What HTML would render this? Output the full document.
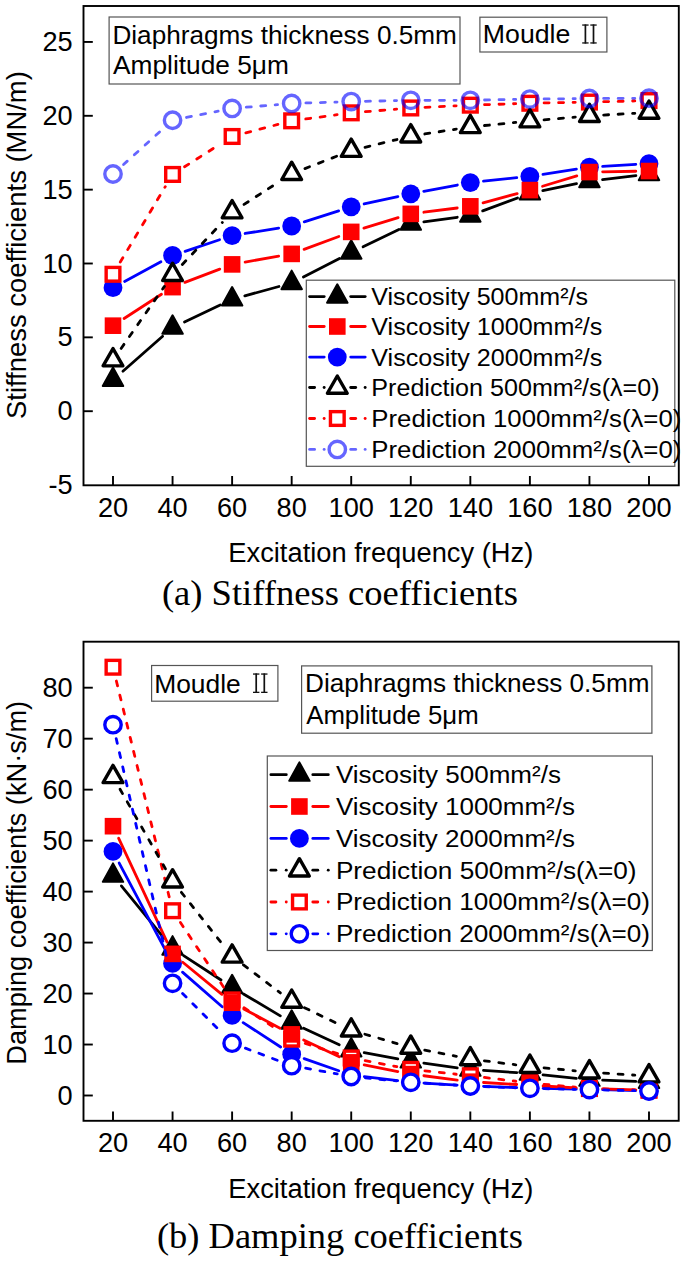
<!DOCTYPE html>
<html><head><meta charset="utf-8"><title>Stiffness and damping coefficients</title>
<style>html,body{margin:0;padding:0;background:#fff;}body{width:685px;height:1261px;overflow:hidden;font-family:"Liberation Sans",sans-serif;}svg{display:block;}</style>
</head><body><svg width="685" height="1261" viewBox="0 0 685 1261"><line x1="122.92" y1="371.18" x2="162.64" y2="336.31" stroke="#000" stroke-width="2.8" stroke-linecap="round"/><line x1="184.48" y1="321.95" x2="220.18" y2="305.04" stroke="#000" stroke-width="2.8" stroke-linecap="round"/><line x1="244.84" y1="295.89" x2="278.94" y2="286.50" stroke="#000" stroke-width="2.8" stroke-linecap="round"/><line x1="303.42" y1="276.99" x2="339.47" y2="258.58" stroke="#000" stroke-width="2.8" stroke-linecap="round"/><line x1="363.09" y1="246.80" x2="398.91" y2="229.39" stroke="#000" stroke-width="2.8" stroke-linecap="round"/><line x1="423.86" y1="221.84" x2="457.25" y2="217.28" stroke="#000" stroke-width="2.8" stroke-linecap="round"/><line x1="482.71" y1="210.90" x2="517.52" y2="197.94" stroke="#000" stroke-width="2.8" stroke-linecap="round"/><line x1="542.82" y1="190.68" x2="576.52" y2="183.74" stroke="#000" stroke-width="2.8" stroke-linecap="round"/><line x1="602.55" y1="179.52" x2="635.89" y2="175.55" stroke="#000" stroke-width="2.8" stroke-linecap="round"/><polygon points="113.00,367.55 123.25,386.05 102.75,386.05" fill="#000" stroke="#000" stroke-width="2.0" stroke-linejoin="round"/><polygon points="172.56,315.27 182.81,333.77 162.31,333.77" fill="#000" stroke="#000" stroke-width="2.0" stroke-linejoin="round"/><polygon points="232.11,287.06 242.36,305.56 221.86,305.56" fill="#000" stroke="#000" stroke-width="2.0" stroke-linejoin="round"/><polygon points="291.67,270.66 301.92,289.16 281.42,289.16" fill="#000" stroke="#000" stroke-width="2.0" stroke-linejoin="round"/><polygon points="351.22,240.24 361.47,258.74 340.97,258.74" fill="#000" stroke="#000" stroke-width="2.0" stroke-linejoin="round"/><polygon points="410.78,211.29 421.03,229.79 400.53,229.79" fill="#000" stroke="#000" stroke-width="2.0" stroke-linejoin="round"/><polygon points="470.33,203.16 480.58,221.66 460.08,221.66" fill="#000" stroke="#000" stroke-width="2.0" stroke-linejoin="round"/><polygon points="529.89,181.01 540.14,199.51 519.64,199.51" fill="#000" stroke="#000" stroke-width="2.0" stroke-linejoin="round"/><polygon points="589.44,168.75 599.69,187.25 579.19,187.25" fill="#000" stroke="#000" stroke-width="2.0" stroke-linejoin="round"/><polygon points="649.00,161.66 659.25,180.16 638.75,180.16" fill="#000" stroke="#000" stroke-width="2.0" stroke-linejoin="round"/><line x1="124.61" y1="281.45" x2="160.94" y2="261.80" stroke="#00f" stroke-width="2.8" stroke-linecap="round"/><line x1="185.07" y1="251.33" x2="219.59" y2="239.78" stroke="#00f" stroke-width="2.8" stroke-linecap="round"/><line x1="245.14" y1="233.48" x2="278.63" y2="228.08" stroke="#00f" stroke-width="2.8" stroke-linecap="round"/><line x1="304.23" y1="221.93" x2="338.66" y2="210.83" stroke="#00f" stroke-width="2.8" stroke-linecap="round"/><line x1="364.12" y1="203.97" x2="397.88" y2="196.60" stroke="#00f" stroke-width="2.8" stroke-linecap="round"/><line x1="423.75" y1="191.34" x2="457.36" y2="185.01" stroke="#00f" stroke-width="2.8" stroke-linecap="round"/><line x1="483.46" y1="181.19" x2="516.76" y2="177.72" stroke="#00f" stroke-width="2.8" stroke-linecap="round"/><line x1="542.94" y1="174.35" x2="576.40" y2="169.21" stroke="#00f" stroke-width="2.8" stroke-linecap="round"/><line x1="602.62" y1="166.42" x2="635.82" y2="164.44" stroke="#00f" stroke-width="2.8" stroke-linecap="round"/><circle cx="113.00" cy="287.72" r="9.4" fill="#00f"/><circle cx="172.56" cy="255.52" r="9.4" fill="#00f"/><circle cx="232.11" cy="235.58" r="9.4" fill="#00f"/><circle cx="291.67" cy="225.98" r="9.4" fill="#00f"/><circle cx="351.22" cy="206.78" r="9.4" fill="#00f"/><circle cx="410.78" cy="193.79" r="9.4" fill="#00f"/><circle cx="470.33" cy="182.56" r="9.4" fill="#00f"/><circle cx="529.89" cy="176.36" r="9.4" fill="#00f"/><circle cx="589.44" cy="167.20" r="9.4" fill="#00f"/><circle cx="649.00" cy="163.65" r="9.4" fill="#00f"/><line x1="120.27" y1="262.09" x2="165.28" y2="186.63" stroke="#f00" stroke-width="2.8" stroke-dasharray="5 9.5" stroke-linecap="round"/><line x1="184.53" y1="166.80" x2="220.14" y2="144.11" stroke="#f00" stroke-width="2.8" stroke-dasharray="5 9.5" stroke-linecap="round"/><line x1="245.84" y1="132.87" x2="277.93" y2="124.43" stroke="#f00" stroke-width="2.8" stroke-dasharray="5 9.5" stroke-linecap="round"/><line x1="305.74" y1="118.94" x2="337.15" y2="114.73" stroke="#f00" stroke-width="2.8" stroke-dasharray="5 9.5" stroke-linecap="round"/><line x1="365.37" y1="111.69" x2="396.63" y2="109.13" stroke="#f00" stroke-width="2.8" stroke-dasharray="5 9.5" stroke-linecap="round"/><line x1="424.96" y1="107.30" x2="456.15" y2="105.83" stroke="#f00" stroke-width="2.8" stroke-dasharray="5 9.5" stroke-linecap="round"/><line x1="484.53" y1="104.71" x2="515.70" y2="103.70" stroke="#f00" stroke-width="2.8" stroke-dasharray="5 9.5" stroke-linecap="round"/><line x1="544.09" y1="102.96" x2="575.25" y2="102.35" stroke="#f00" stroke-width="2.8" stroke-dasharray="5 9.5" stroke-linecap="round"/><line x1="603.64" y1="101.71" x2="634.80" y2="100.94" stroke="#f00" stroke-width="2.8" stroke-dasharray="5 9.5" stroke-linecap="round"/><rect x="106.15" y="267.43" width="13.7" height="13.7" fill="#fff" stroke="#f00" stroke-width="3.4"/><rect x="165.71" y="167.59" width="13.7" height="13.7" fill="#fff" stroke="#f00" stroke-width="3.4"/><rect x="225.26" y="129.63" width="13.7" height="13.7" fill="#fff" stroke="#f00" stroke-width="3.4"/><rect x="284.82" y="113.97" width="13.7" height="13.7" fill="#fff" stroke="#f00" stroke-width="3.4"/><rect x="344.37" y="106.00" width="13.7" height="13.7" fill="#fff" stroke="#f00" stroke-width="3.4"/><rect x="403.93" y="101.12" width="13.7" height="13.7" fill="#fff" stroke="#f00" stroke-width="3.4"/><rect x="463.48" y="98.32" width="13.7" height="13.7" fill="#fff" stroke="#f00" stroke-width="3.4"/><rect x="523.04" y="96.40" width="13.7" height="13.7" fill="#fff" stroke="#f00" stroke-width="3.4"/><rect x="582.59" y="95.21" width="13.7" height="13.7" fill="#fff" stroke="#f00" stroke-width="3.4"/><rect x="642.15" y="93.74" width="13.7" height="13.7" fill="#fff" stroke="#f00" stroke-width="3.4"/><line x1="124.08" y1="318.51" x2="161.47" y2="294.30" stroke="#f00" stroke-width="2.8" stroke-linecap="round"/><line x1="184.89" y1="282.42" x2="219.78" y2="269.10" stroke="#f00" stroke-width="2.8" stroke-linecap="round"/><line x1="245.11" y1="262.10" x2="278.67" y2="256.19" stroke="#f00" stroke-width="2.8" stroke-linecap="round"/><line x1="304.05" y1="249.32" x2="338.84" y2="236.47" stroke="#f00" stroke-width="2.8" stroke-linecap="round"/><line x1="363.86" y1="228.07" x2="398.14" y2="217.70" stroke="#f00" stroke-width="2.8" stroke-linecap="round"/><line x1="423.87" y1="212.22" x2="457.24" y2="208.00" stroke="#f00" stroke-width="2.8" stroke-linecap="round"/><line x1="483.07" y1="202.87" x2="517.15" y2="193.57" stroke="#f00" stroke-width="2.8" stroke-linecap="round"/><line x1="542.52" y1="186.27" x2="576.81" y2="175.90" stroke="#f00" stroke-width="2.8" stroke-linecap="round"/><line x1="602.64" y1="171.84" x2="635.80" y2="171.27" stroke="#f00" stroke-width="2.8" stroke-linecap="round"/><rect x="104.70" y="317.38" width="16.6" height="16.6" fill="#f00"/><rect x="164.26" y="278.83" width="16.6" height="16.6" fill="#f00"/><rect x="223.81" y="256.09" width="16.6" height="16.6" fill="#f00"/><rect x="283.37" y="245.60" width="16.6" height="16.6" fill="#f00"/><rect x="342.92" y="223.59" width="16.6" height="16.6" fill="#f00"/><rect x="402.48" y="205.57" width="16.6" height="16.6" fill="#f00"/><rect x="462.03" y="198.04" width="16.6" height="16.6" fill="#f00"/><rect x="521.59" y="181.79" width="16.6" height="16.6" fill="#f00"/><rect x="581.14" y="163.77" width="16.6" height="16.6" fill="#f00"/><rect x="640.70" y="162.74" width="16.6" height="16.6" fill="#f00"/><line x1="121.12" y1="348.45" x2="164.43" y2="286.37" stroke="#000" stroke-width="2.8" stroke-dasharray="5 9.5" stroke-linecap="round"/><line x1="182.34" y1="264.44" x2="222.33" y2="222.39" stroke="#000" stroke-width="2.8" stroke-dasharray="5 9.5" stroke-linecap="round"/><line x1="244.05" y1="204.41" x2="279.73" y2="181.39" stroke="#000" stroke-width="2.8" stroke-dasharray="5 9.5" stroke-linecap="round"/><line x1="304.91" y1="168.57" x2="337.98" y2="155.78" stroke="#000" stroke-width="2.8" stroke-dasharray="5 9.5" stroke-linecap="round"/><line x1="365.02" y1="147.30" x2="396.98" y2="139.54" stroke="#000" stroke-width="2.8" stroke-dasharray="5 9.5" stroke-linecap="round"/><line x1="424.81" y1="133.99" x2="456.30" y2="129.07" stroke="#000" stroke-width="2.8" stroke-dasharray="5 9.5" stroke-linecap="round"/><line x1="484.47" y1="125.51" x2="515.75" y2="122.48" stroke="#000" stroke-width="2.8" stroke-dasharray="5 9.5" stroke-linecap="round"/><line x1="544.03" y1="119.85" x2="575.30" y2="117.06" stroke="#000" stroke-width="2.8" stroke-dasharray="5 9.5" stroke-linecap="round"/><line x1="603.62" y1="115.03" x2="634.82" y2="113.32" stroke="#000" stroke-width="2.8" stroke-dasharray="5 9.5" stroke-linecap="round"/><polygon points="113.00,348.56 122.90,365.86 103.10,365.86" fill="#fff" stroke="#000" stroke-width="3.4" stroke-linejoin="round"/><polygon points="172.56,263.19 182.46,280.49 162.66,280.49" fill="#fff" stroke="#000" stroke-width="3.4" stroke-linejoin="round"/><polygon points="232.11,200.57 242.01,217.87 222.21,217.87" fill="#fff" stroke="#000" stroke-width="3.4" stroke-linejoin="round"/><polygon points="291.67,162.17 301.57,179.47 281.77,179.47" fill="#fff" stroke="#000" stroke-width="3.4" stroke-linejoin="round"/><polygon points="351.22,139.12 361.12,156.42 341.32,156.42" fill="#fff" stroke="#000" stroke-width="3.4" stroke-linejoin="round"/><polygon points="410.78,124.65 420.68,141.95 400.88,141.95" fill="#fff" stroke="#000" stroke-width="3.4" stroke-linejoin="round"/><polygon points="470.33,115.34 480.23,132.64 460.43,132.64" fill="#fff" stroke="#000" stroke-width="3.4" stroke-linejoin="round"/><polygon points="529.89,109.58 539.79,126.88 519.99,126.88" fill="#fff" stroke="#000" stroke-width="3.4" stroke-linejoin="round"/><polygon points="589.44,104.27 599.34,121.57 579.54,121.57" fill="#fff" stroke="#000" stroke-width="3.4" stroke-linejoin="round"/><polygon points="649.00,101.02 658.90,118.32 639.10,118.32" fill="#fff" stroke="#000" stroke-width="3.4" stroke-linejoin="round"/><g opacity="0.6"><line x1="123.54" y1="164.48" x2="162.02" y2="129.75" stroke="#00f" stroke-width="2.8" stroke-dasharray="5 9.5" stroke-linecap="round"/><line x1="186.48" y1="117.47" x2="218.18" y2="111.18" stroke="#00f" stroke-width="2.8" stroke-dasharray="5 9.5" stroke-linecap="round"/><line x1="246.26" y1="107.22" x2="277.52" y2="104.59" stroke="#00f" stroke-width="2.8" stroke-dasharray="5 9.5" stroke-linecap="round"/><line x1="305.86" y1="102.97" x2="337.03" y2="102.04" stroke="#00f" stroke-width="2.8" stroke-dasharray="5 9.5" stroke-linecap="round"/><line x1="365.42" y1="101.30" x2="396.58" y2="100.61" stroke="#00f" stroke-width="2.8" stroke-dasharray="5 9.5" stroke-linecap="round"/><line x1="424.98" y1="100.29" x2="456.13" y2="100.29" stroke="#00f" stroke-width="2.8" stroke-dasharray="5 9.5" stroke-linecap="round"/><line x1="484.53" y1="100.01" x2="515.69" y2="99.39" stroke="#00f" stroke-width="2.8" stroke-dasharray="5 9.5" stroke-linecap="round"/><line x1="544.09" y1="98.97" x2="575.25" y2="98.66" stroke="#00f" stroke-width="2.8" stroke-dasharray="5 9.5" stroke-linecap="round"/><line x1="603.64" y1="98.45" x2="634.80" y2="98.29" stroke="#00f" stroke-width="2.8" stroke-dasharray="5 9.5" stroke-linecap="round"/><circle cx="113.00" cy="173.99" r="8.2" fill="none" stroke="#00f" stroke-width="3.4"/><circle cx="172.56" cy="120.23" r="8.2" fill="none" stroke="#00f" stroke-width="3.4"/><circle cx="232.11" cy="108.42" r="8.2" fill="none" stroke="#00f" stroke-width="3.4"/><circle cx="291.67" cy="103.39" r="8.2" fill="none" stroke="#00f" stroke-width="3.4"/><circle cx="351.22" cy="101.62" r="8.2" fill="none" stroke="#00f" stroke-width="3.4"/><circle cx="410.78" cy="100.29" r="8.2" fill="none" stroke="#00f" stroke-width="3.4"/><circle cx="470.33" cy="100.29" r="8.2" fill="none" stroke="#00f" stroke-width="3.4"/><circle cx="529.89" cy="99.11" r="8.2" fill="none" stroke="#00f" stroke-width="3.4"/><circle cx="589.44" cy="98.52" r="8.2" fill="none" stroke="#00f" stroke-width="3.4"/><circle cx="649.00" cy="98.22" r="8.2" fill="none" stroke="#00f" stroke-width="3.4"/></g><rect x="83.5" y="6.0" width="595.3" height="479.3" fill="none" stroke="#000" stroke-width="1.9"/><line x1="83.5" y1="41.95" x2="92.8" y2="41.95" stroke="#000" stroke-width="1.9"/><text x="72.7" y="51.05" font-size="27.2" text-anchor="end" font-family="&quot;Liberation Sans&quot;, sans-serif">25</text><line x1="83.5" y1="115.80" x2="92.8" y2="115.80" stroke="#000" stroke-width="1.9"/><text x="72.7" y="124.90" font-size="27.2" text-anchor="end" font-family="&quot;Liberation Sans&quot;, sans-serif">20</text><line x1="83.5" y1="189.65" x2="92.8" y2="189.65" stroke="#000" stroke-width="1.9"/><text x="72.7" y="198.75" font-size="27.2" text-anchor="end" font-family="&quot;Liberation Sans&quot;, sans-serif">15</text><line x1="83.5" y1="263.50" x2="92.8" y2="263.50" stroke="#000" stroke-width="1.9"/><text x="72.7" y="272.60" font-size="27.2" text-anchor="end" font-family="&quot;Liberation Sans&quot;, sans-serif">10</text><line x1="83.5" y1="337.35" x2="92.8" y2="337.35" stroke="#000" stroke-width="1.9"/><text x="72.7" y="346.45" font-size="27.2" text-anchor="end" font-family="&quot;Liberation Sans&quot;, sans-serif">5</text><line x1="83.5" y1="411.20" x2="92.8" y2="411.20" stroke="#000" stroke-width="1.9"/><text x="72.7" y="420.30" font-size="27.2" text-anchor="end" font-family="&quot;Liberation Sans&quot;, sans-serif">0</text><text x="72.7" y="494.15" font-size="27.2" text-anchor="end" font-family="&quot;Liberation Sans&quot;, sans-serif">-5</text><line x1="113.00" y1="485.3" x2="113.00" y2="476.0" stroke="#000" stroke-width="1.9"/><text x="113.00" y="516.6" font-size="27.2" text-anchor="middle" font-family="&quot;Liberation Sans&quot;, sans-serif">20</text><line x1="172.56" y1="485.3" x2="172.56" y2="476.0" stroke="#000" stroke-width="1.9"/><text x="172.56" y="516.6" font-size="27.2" text-anchor="middle" font-family="&quot;Liberation Sans&quot;, sans-serif">40</text><line x1="232.11" y1="485.3" x2="232.11" y2="476.0" stroke="#000" stroke-width="1.9"/><text x="232.11" y="516.6" font-size="27.2" text-anchor="middle" font-family="&quot;Liberation Sans&quot;, sans-serif">60</text><line x1="291.67" y1="485.3" x2="291.67" y2="476.0" stroke="#000" stroke-width="1.9"/><text x="291.67" y="516.6" font-size="27.2" text-anchor="middle" font-family="&quot;Liberation Sans&quot;, sans-serif">80</text><line x1="351.22" y1="485.3" x2="351.22" y2="476.0" stroke="#000" stroke-width="1.9"/><text x="351.22" y="516.6" font-size="27.2" text-anchor="middle" font-family="&quot;Liberation Sans&quot;, sans-serif">100</text><line x1="410.78" y1="485.3" x2="410.78" y2="476.0" stroke="#000" stroke-width="1.9"/><text x="410.78" y="516.6" font-size="27.2" text-anchor="middle" font-family="&quot;Liberation Sans&quot;, sans-serif">120</text><line x1="470.33" y1="485.3" x2="470.33" y2="476.0" stroke="#000" stroke-width="1.9"/><text x="470.33" y="516.6" font-size="27.2" text-anchor="middle" font-family="&quot;Liberation Sans&quot;, sans-serif">140</text><line x1="529.89" y1="485.3" x2="529.89" y2="476.0" stroke="#000" stroke-width="1.9"/><text x="529.89" y="516.6" font-size="27.2" text-anchor="middle" font-family="&quot;Liberation Sans&quot;, sans-serif">160</text><line x1="589.44" y1="485.3" x2="589.44" y2="476.0" stroke="#000" stroke-width="1.9"/><text x="589.44" y="516.6" font-size="27.2" text-anchor="middle" font-family="&quot;Liberation Sans&quot;, sans-serif">180</text><line x1="649.00" y1="485.3" x2="649.00" y2="476.0" stroke="#000" stroke-width="1.9"/><text x="649.00" y="516.6" font-size="27.2" text-anchor="middle" font-family="&quot;Liberation Sans&quot;, sans-serif">200</text><text x="380.8" y="562.3" font-size="26.8" text-anchor="middle" font-family="&quot;Liberation Sans&quot;, sans-serif" textLength="305" lengthAdjust="spacingAndGlyphs">Excitation frequency (Hz)</text><g transform="translate(25.6,245.10) rotate(-90)"><text x="0" y="0" font-size="27.4" text-anchor="middle" font-family="&quot;Liberation Sans&quot;, sans-serif" textLength="347.8" lengthAdjust="spacingAndGlyphs">Stiffness coefficients (MN/m)</text></g><text x="339.9" y="604.5" font-size="36.8" text-anchor="middle" font-family="&quot;Liberation Serif&quot;, serif" textLength="356" lengthAdjust="spacingAndGlyphs">(a) Stiffness coefficients</text><rect x="109.1" y="17.0" width="350.9" height="67.0" fill="#fff" stroke="#555" stroke-width="1.2"/><text x="112.4" y="43.5" font-size="26.3" text-anchor="start" font-family="&quot;Liberation Sans&quot;, sans-serif" textLength="344.5" lengthAdjust="spacingAndGlyphs">Diaphragms thickness 0.5mm</text><text x="113.1" y="74.3" font-size="26.3" text-anchor="start" font-family="&quot;Liberation Sans&quot;, sans-serif" textLength="175.8" lengthAdjust="spacingAndGlyphs">Amplitude 5μm</text><rect x="479.9" y="17.2" width="127.0" height="34.8" fill="#fff" stroke="#555" stroke-width="1.2"/><text x="482.8" y="43.4" font-size="26.3" text-anchor="start" font-family="&quot;Liberation Sans&quot;, sans-serif" textLength="87.6" lengthAdjust="spacingAndGlyphs">Moudle</text><rect x="584.55" y="24.40" width="1.7" height="19.20" fill="#111"/><rect x="582.20" y="24.40" width="6.4" height="1.3" fill="#111"/><rect x="582.20" y="42.30" width="6.4" height="1.3" fill="#111"/><rect x="592.65" y="24.40" width="1.7" height="19.20" fill="#111"/><rect x="590.30" y="24.40" width="6.4" height="1.3" fill="#111"/><rect x="590.30" y="42.30" width="6.4" height="1.3" fill="#111"/><rect x="306.3" y="280.2" width="368.49999999999994" height="186.10000000000002" fill="#fff" stroke="#555" stroke-width="1.2"/><line x1="309.59999999999997" y1="296.6" x2="324.20" y2="296.6" stroke="#000" stroke-width="2.8" stroke-linecap="round"/><line x1="350.70" y1="296.6" x2="365.20000000000005" y2="296.6" stroke="#000" stroke-width="2.8" stroke-linecap="round"/><polygon points="337.30,284.27 347.55,302.77 327.05,302.77" fill="#000" stroke="#000" stroke-width="2.0" stroke-linejoin="round"/><text x="371.3" y="305.20" font-size="24.6" text-anchor="start" font-family="&quot;Liberation Sans&quot;, sans-serif" textLength="216.7" lengthAdjust="spacingAndGlyphs">Viscosity 500mm²/s</text><line x1="309.59999999999997" y1="326.5" x2="324.20" y2="326.5" stroke="#f00" stroke-width="2.8" stroke-linecap="round"/><line x1="350.70" y1="326.5" x2="365.20000000000005" y2="326.5" stroke="#f00" stroke-width="2.8" stroke-linecap="round"/><rect x="329.00" y="318.20" width="16.6" height="16.6" fill="#f00"/><text x="371.3" y="335.10" font-size="24.6" text-anchor="start" font-family="&quot;Liberation Sans&quot;, sans-serif" textLength="231" lengthAdjust="spacingAndGlyphs">Viscosity 1000mm²/s</text><line x1="309.59999999999997" y1="357.1" x2="324.20" y2="357.1" stroke="#00f" stroke-width="2.8" stroke-linecap="round"/><line x1="350.70" y1="357.1" x2="365.20000000000005" y2="357.1" stroke="#00f" stroke-width="2.8" stroke-linecap="round"/><circle cx="337.30" cy="357.10" r="9.4" fill="#00f"/><text x="371.3" y="365.70" font-size="24.6" text-anchor="start" font-family="&quot;Liberation Sans&quot;, sans-serif" textLength="231" lengthAdjust="spacingAndGlyphs">Viscosity 2000mm²/s</text><line x1="309.60" y1="387.5" x2="314.60" y2="387.5" stroke="#000" stroke-width="2.8" stroke-linecap="round"/><line x1="324.10" y1="387.5" x2="324.20" y2="387.5" stroke="#000" stroke-width="2.8" stroke-linecap="round"/><line x1="350.70" y1="387.5" x2="355.70" y2="387.5" stroke="#000" stroke-width="2.8" stroke-linecap="round"/><line x1="365.10" y1="387.5" x2="365.20" y2="387.5" stroke="#000" stroke-width="2.8" stroke-linecap="round"/><polygon points="337.30,375.97 347.20,393.27 327.40,393.27" fill="#fff" stroke="#000" stroke-width="3.4" stroke-linejoin="round"/><text x="371.3" y="396.10" font-size="24.6" text-anchor="start" font-family="&quot;Liberation Sans&quot;, sans-serif" textLength="288.3" lengthAdjust="spacingAndGlyphs">Prediction 500mm²/s(λ=0)</text><line x1="309.60" y1="418.5" x2="314.60" y2="418.5" stroke="#f00" stroke-width="2.8" stroke-linecap="round"/><line x1="324.10" y1="418.5" x2="324.20" y2="418.5" stroke="#f00" stroke-width="2.8" stroke-linecap="round"/><line x1="350.70" y1="418.5" x2="355.70" y2="418.5" stroke="#f00" stroke-width="2.8" stroke-linecap="round"/><line x1="365.10" y1="418.5" x2="365.20" y2="418.5" stroke="#f00" stroke-width="2.8" stroke-linecap="round"/><rect x="330.45" y="411.65" width="13.7" height="13.7" fill="#fff" stroke="#f00" stroke-width="3.4"/><text x="371.3" y="427.10" font-size="24.6" text-anchor="start" font-family="&quot;Liberation Sans&quot;, sans-serif" textLength="310" lengthAdjust="spacingAndGlyphs">Prediction 1000mm²/s(λ=0)</text><g opacity="0.6"><line x1="309.60" y1="449.4" x2="314.60" y2="449.4" stroke="#00f" stroke-width="2.8" stroke-linecap="round"/><line x1="324.10" y1="449.4" x2="324.20" y2="449.4" stroke="#00f" stroke-width="2.8" stroke-linecap="round"/><line x1="350.70" y1="449.4" x2="355.70" y2="449.4" stroke="#00f" stroke-width="2.8" stroke-linecap="round"/><line x1="365.10" y1="449.4" x2="365.20" y2="449.4" stroke="#00f" stroke-width="2.8" stroke-linecap="round"/><circle cx="337.30" cy="449.40" r="8.2" fill="#fff" stroke="#00f" stroke-width="3.4"/></g><text x="371.3" y="458.00" font-size="24.6" text-anchor="start" font-family="&quot;Liberation Sans&quot;, sans-serif" textLength="310" lengthAdjust="spacingAndGlyphs">Prediction 2000mm²/s(λ=0)</text><line x1="121.36" y1="885.91" x2="164.20" y2="938.27" stroke="#000" stroke-width="2.8" stroke-linecap="round"/><line x1="183.62" y1="955.68" x2="221.04" y2="979.99" stroke="#000" stroke-width="2.8" stroke-linecap="round"/><line x1="243.46" y1="993.93" x2="280.32" y2="1015.86" stroke="#000" stroke-width="2.8" stroke-linecap="round"/><line x1="303.64" y1="1028.17" x2="339.25" y2="1044.72" stroke="#000" stroke-width="2.8" stroke-linecap="round"/><line x1="364.20" y1="1052.70" x2="397.80" y2="1058.94" stroke="#000" stroke-width="2.8" stroke-linecap="round"/><line x1="423.85" y1="1063.16" x2="457.26" y2="1067.79" stroke="#000" stroke-width="2.8" stroke-linecap="round"/><line x1="483.51" y1="1070.46" x2="516.72" y2="1072.62" stroke="#000" stroke-width="2.8" stroke-linecap="round"/><line x1="543.02" y1="1074.85" x2="576.32" y2="1078.33" stroke="#000" stroke-width="2.8" stroke-linecap="round"/><line x1="602.64" y1="1080.18" x2="635.81" y2="1081.40" stroke="#000" stroke-width="2.8" stroke-linecap="round"/><polygon points="113.00,863.36 123.25,881.86 102.75,881.86" fill="#000" stroke="#000" stroke-width="2.0" stroke-linejoin="round"/><polygon points="172.56,936.15 182.81,954.65 162.31,954.65" fill="#000" stroke="#000" stroke-width="2.0" stroke-linejoin="round"/><polygon points="232.11,974.84 242.36,993.34 221.86,993.34" fill="#000" stroke="#000" stroke-width="2.0" stroke-linejoin="round"/><polygon points="291.67,1010.27 301.92,1028.77 281.42,1028.77" fill="#000" stroke="#000" stroke-width="2.0" stroke-linejoin="round"/><polygon points="351.22,1037.95 361.47,1056.45 340.97,1056.45" fill="#000" stroke="#000" stroke-width="2.0" stroke-linejoin="round"/><polygon points="410.78,1049.01 421.03,1067.51 400.53,1067.51" fill="#000" stroke="#000" stroke-width="2.0" stroke-linejoin="round"/><polygon points="470.33,1057.27 480.58,1075.77 460.08,1075.77" fill="#000" stroke="#000" stroke-width="2.0" stroke-linejoin="round"/><polygon points="529.89,1061.15 540.14,1079.65 519.64,1079.65" fill="#000" stroke="#000" stroke-width="2.0" stroke-linejoin="round"/><polygon points="589.44,1067.36 599.69,1085.86 579.19,1085.86" fill="#000" stroke="#000" stroke-width="2.0" stroke-linejoin="round"/><polygon points="649.00,1069.56 659.25,1088.06 638.75,1088.06" fill="#000" stroke="#000" stroke-width="2.0" stroke-linejoin="round"/><line x1="119.19" y1="863.04" x2="166.36" y2="951.82" stroke="#00f" stroke-width="2.8" stroke-linecap="round"/><line x1="182.50" y1="972.15" x2="222.16" y2="1006.74" stroke="#00f" stroke-width="2.8" stroke-linecap="round"/><line x1="243.17" y1="1022.62" x2="280.61" y2="1047.01" stroke="#00f" stroke-width="2.8" stroke-linecap="round"/><line x1="304.12" y1="1058.58" x2="338.77" y2="1070.74" stroke="#00f" stroke-width="2.8" stroke-linecap="round"/><line x1="364.33" y1="1076.68" x2="397.67" y2="1080.68" stroke="#00f" stroke-width="2.8" stroke-linecap="round"/><line x1="423.95" y1="1083.04" x2="457.16" y2="1085.03" stroke="#00f" stroke-width="2.8" stroke-linecap="round"/><line x1="483.52" y1="1086.32" x2="516.70" y2="1087.60" stroke="#00f" stroke-width="2.8" stroke-linecap="round"/><line x1="543.09" y1="1088.39" x2="576.25" y2="1089.10" stroke="#00f" stroke-width="2.8" stroke-linecap="round"/><line x1="602.64" y1="1089.72" x2="635.80" y2="1090.57" stroke="#00f" stroke-width="2.8" stroke-linecap="round"/><circle cx="113.00" cy="851.38" r="9.4" fill="#00f"/><circle cx="172.56" cy="963.47" r="9.4" fill="#00f"/><circle cx="232.11" cy="1015.42" r="9.4" fill="#00f"/><circle cx="291.67" cy="1054.21" r="9.4" fill="#00f"/><circle cx="351.22" cy="1075.11" r="9.4" fill="#00f"/><circle cx="410.78" cy="1082.25" r="9.4" fill="#00f"/><circle cx="470.33" cy="1085.81" r="9.4" fill="#00f"/><circle cx="529.89" cy="1088.11" r="9.4" fill="#00f"/><circle cx="589.44" cy="1089.38" r="9.4" fill="#00f"/><circle cx="649.00" cy="1090.91" r="9.4" fill="#00f"/><line x1="116.37" y1="681.00" x2="169.18" y2="896.92" stroke="#f00" stroke-width="2.8" stroke-dasharray="5 9.5" stroke-linecap="round"/><line x1="180.44" y1="922.53" x2="224.23" y2="988.11" stroke="#f00" stroke-width="2.8" stroke-dasharray="5 9.5" stroke-linecap="round"/><line x1="243.97" y1="1007.74" x2="279.81" y2="1031.36" stroke="#f00" stroke-width="2.8" stroke-dasharray="5 9.5" stroke-linecap="round"/><line x1="305.21" y1="1043.45" x2="337.68" y2="1053.71" stroke="#f00" stroke-width="2.8" stroke-dasharray="5 9.5" stroke-linecap="round"/><line x1="365.17" y1="1060.64" x2="396.83" y2="1066.69" stroke="#f00" stroke-width="2.8" stroke-dasharray="5 9.5" stroke-linecap="round"/><line x1="424.90" y1="1070.87" x2="456.22" y2="1074.25" stroke="#f00" stroke-width="2.8" stroke-dasharray="5 9.5" stroke-linecap="round"/><line x1="484.43" y1="1077.47" x2="515.79" y2="1081.26" stroke="#f00" stroke-width="2.8" stroke-dasharray="5 9.5" stroke-linecap="round"/><line x1="544.03" y1="1084.28" x2="575.31" y2="1087.20" stroke="#f00" stroke-width="2.8" stroke-dasharray="5 9.5" stroke-linecap="round"/><line x1="603.64" y1="1088.92" x2="634.81" y2="1089.80" stroke="#f00" stroke-width="2.8" stroke-dasharray="5 9.5" stroke-linecap="round"/><rect x="106.15" y="660.36" width="13.7" height="13.7" fill="#fff" stroke="#f00" stroke-width="3.4"/><rect x="165.71" y="903.87" width="13.7" height="13.7" fill="#fff" stroke="#f00" stroke-width="3.4"/><rect x="225.26" y="993.07" width="13.7" height="13.7" fill="#fff" stroke="#f00" stroke-width="3.4"/><rect x="284.82" y="1032.32" width="13.7" height="13.7" fill="#fff" stroke="#f00" stroke-width="3.4"/><rect x="344.37" y="1051.13" width="13.7" height="13.7" fill="#fff" stroke="#f00" stroke-width="3.4"/><rect x="403.93" y="1062.50" width="13.7" height="13.7" fill="#fff" stroke="#f00" stroke-width="3.4"/><rect x="463.48" y="1068.92" width="13.7" height="13.7" fill="#fff" stroke="#f00" stroke-width="3.4"/><rect x="523.04" y="1076.11" width="13.7" height="13.7" fill="#fff" stroke="#f00" stroke-width="3.4"/><rect x="582.59" y="1081.67" width="13.7" height="13.7" fill="#fff" stroke="#f00" stroke-width="3.4"/><rect x="642.15" y="1083.35" width="13.7" height="13.7" fill="#fff" stroke="#f00" stroke-width="3.4"/><line x1="118.58" y1="838.16" x2="166.98" y2="941.93" stroke="#f00" stroke-width="2.8" stroke-linecap="round"/><line x1="182.76" y1="962.26" x2="221.90" y2="994.36" stroke="#f00" stroke-width="2.8" stroke-linecap="round"/><line x1="243.77" y1="1008.92" x2="280.01" y2="1028.19" stroke="#f00" stroke-width="2.8" stroke-linecap="round"/><line x1="303.61" y1="1039.99" x2="339.28" y2="1056.75" stroke="#f00" stroke-width="2.8" stroke-linecap="round"/><line x1="364.17" y1="1064.92" x2="397.83" y2="1071.54" stroke="#f00" stroke-width="2.8" stroke-linecap="round"/><line x1="423.87" y1="1075.76" x2="457.24" y2="1080.02" stroke="#f00" stroke-width="2.8" stroke-linecap="round"/><line x1="483.51" y1="1082.49" x2="516.71" y2="1084.50" stroke="#f00" stroke-width="2.8" stroke-linecap="round"/><line x1="543.07" y1="1086.02" x2="576.26" y2="1087.81" stroke="#f00" stroke-width="2.8" stroke-linecap="round"/><line x1="602.64" y1="1088.89" x2="635.81" y2="1089.83" stroke="#f00" stroke-width="2.8" stroke-linecap="round"/><rect x="104.70" y="817.90" width="16.6" height="16.6" fill="#f00"/><rect x="164.26" y="945.59" width="16.6" height="16.6" fill="#f00"/><rect x="223.81" y="994.43" width="16.6" height="16.6" fill="#f00"/><rect x="283.37" y="1026.08" width="16.6" height="16.6" fill="#f00"/><rect x="342.92" y="1054.07" width="16.6" height="16.6" fill="#f00"/><rect x="402.48" y="1065.79" width="16.6" height="16.6" fill="#f00"/><rect x="462.03" y="1073.39" width="16.6" height="16.6" fill="#f00"/><rect x="521.59" y="1077.01" width="16.6" height="16.6" fill="#f00"/><rect x="581.14" y="1080.22" width="16.6" height="16.6" fill="#f00"/><rect x="640.70" y="1081.90" width="16.6" height="16.6" fill="#f00"/><line x1="120.04" y1="789.24" x2="165.51" y2="868.87" stroke="#000" stroke-width="2.8" stroke-dasharray="5 9.5" stroke-linecap="round"/><line x1="181.37" y1="892.33" x2="223.29" y2="945.26" stroke="#000" stroke-width="2.8" stroke-dasharray="5 9.5" stroke-linecap="round"/><line x1="243.43" y1="964.96" x2="280.35" y2="992.93" stroke="#000" stroke-width="2.8" stroke-dasharray="5 9.5" stroke-linecap="round"/><line x1="304.45" y1="1007.68" x2="338.44" y2="1024.12" stroke="#000" stroke-width="2.8" stroke-dasharray="5 9.5" stroke-linecap="round"/><line x1="364.87" y1="1034.24" x2="397.13" y2="1043.55" stroke="#000" stroke-width="2.8" stroke-dasharray="5 9.5" stroke-linecap="round"/><line x1="424.72" y1="1050.18" x2="456.39" y2="1056.31" stroke="#000" stroke-width="2.8" stroke-dasharray="5 9.5" stroke-linecap="round"/><line x1="484.42" y1="1060.80" x2="515.80" y2="1064.80" stroke="#000" stroke-width="2.8" stroke-dasharray="5 9.5" stroke-linecap="round"/><line x1="544.03" y1="1067.90" x2="575.30" y2="1070.80" stroke="#000" stroke-width="2.8" stroke-dasharray="5 9.5" stroke-linecap="round"/><line x1="603.61" y1="1073.06" x2="634.83" y2="1075.17" stroke="#000" stroke-width="2.8" stroke-dasharray="5 9.5" stroke-linecap="round"/><polygon points="113.00,765.37 122.90,782.67 103.10,782.67" fill="#fff" stroke="#000" stroke-width="3.4" stroke-linejoin="round"/><polygon points="172.56,869.67 182.46,886.97 162.66,886.97" fill="#fff" stroke="#000" stroke-width="3.4" stroke-linejoin="round"/><polygon points="232.11,944.86 242.01,962.16 222.21,962.16" fill="#fff" stroke="#000" stroke-width="3.4" stroke-linejoin="round"/><polygon points="291.67,989.97 301.57,1007.27 281.77,1007.27" fill="#fff" stroke="#000" stroke-width="3.4" stroke-linejoin="round"/><polygon points="351.22,1018.77 361.12,1036.07 341.32,1036.07" fill="#fff" stroke="#000" stroke-width="3.4" stroke-linejoin="round"/><polygon points="410.78,1035.95 420.68,1053.25 400.88,1053.25" fill="#fff" stroke="#000" stroke-width="3.4" stroke-linejoin="round"/><polygon points="470.33,1047.47 480.23,1064.77 460.43,1064.77" fill="#fff" stroke="#000" stroke-width="3.4" stroke-linejoin="round"/><polygon points="529.89,1055.06 539.79,1072.36 519.99,1072.36" fill="#fff" stroke="#000" stroke-width="3.4" stroke-linejoin="round"/><polygon points="589.44,1060.57 599.34,1077.87 579.54,1077.87" fill="#fff" stroke="#000" stroke-width="3.4" stroke-linejoin="round"/><polygon points="649.00,1064.60 658.90,1081.90 639.10,1081.90" fill="#fff" stroke="#000" stroke-width="3.4" stroke-linejoin="round"/><line x1="116.19" y1="738.55" x2="169.37" y2="969.52" stroke="#00f" stroke-width="2.8" stroke-dasharray="5 9.5" stroke-linecap="round"/><line x1="182.58" y1="993.42" x2="222.09" y2="1033.09" stroke="#00f" stroke-width="2.8" stroke-dasharray="5 9.5" stroke-linecap="round"/><line x1="245.39" y1="1048.17" x2="278.39" y2="1060.66" stroke="#00f" stroke-width="2.8" stroke-dasharray="5 9.5" stroke-linecap="round"/><line x1="305.64" y1="1068.21" x2="337.25" y2="1073.95" stroke="#00f" stroke-width="2.8" stroke-dasharray="5 9.5" stroke-linecap="round"/><line x1="365.36" y1="1077.87" x2="396.64" y2="1080.92" stroke="#00f" stroke-width="2.8" stroke-dasharray="5 9.5" stroke-linecap="round"/><line x1="424.95" y1="1083.18" x2="456.16" y2="1085.13" stroke="#00f" stroke-width="2.8" stroke-dasharray="5 9.5" stroke-linecap="round"/><line x1="484.52" y1="1086.57" x2="515.70" y2="1087.77" stroke="#00f" stroke-width="2.8" stroke-dasharray="5 9.5" stroke-linecap="round"/><line x1="544.09" y1="1088.62" x2="575.25" y2="1089.28" stroke="#00f" stroke-width="2.8" stroke-dasharray="5 9.5" stroke-linecap="round"/><line x1="603.64" y1="1089.93" x2="634.80" y2="1090.67" stroke="#00f" stroke-width="2.8" stroke-dasharray="5 9.5" stroke-linecap="round"/><circle cx="113.00" cy="724.71" r="8.2" fill="#fff" stroke="#00f" stroke-width="3.4"/><circle cx="172.56" cy="983.36" r="8.2" fill="#fff" stroke="#00f" stroke-width="3.4"/><circle cx="232.11" cy="1043.15" r="8.2" fill="#fff" stroke="#00f" stroke-width="3.4"/><circle cx="291.67" cy="1065.68" r="8.2" fill="#fff" stroke="#00f" stroke-width="3.4"/><circle cx="351.22" cy="1076.49" r="8.2" fill="#fff" stroke="#00f" stroke-width="3.4"/><circle cx="410.78" cy="1082.30" r="8.2" fill="#fff" stroke="#00f" stroke-width="3.4"/><circle cx="470.33" cy="1086.02" r="8.2" fill="#fff" stroke="#00f" stroke-width="3.4"/><circle cx="529.89" cy="1088.31" r="8.2" fill="#fff" stroke="#00f" stroke-width="3.4"/><circle cx="589.44" cy="1089.59" r="8.2" fill="#fff" stroke="#00f" stroke-width="3.4"/><circle cx="649.00" cy="1091.01" r="8.2" fill="#fff" stroke="#00f" stroke-width="3.4"/><rect x="83.5" y="641.7" width="595.2" height="479.0999999999999" fill="none" stroke="#000" stroke-width="1.9"/><line x1="83.5" y1="1095.50" x2="92.8" y2="1095.50" stroke="#000" stroke-width="1.9"/><text x="72.7" y="1104.60" font-size="27.2" text-anchor="end" font-family="&quot;Liberation Sans&quot;, sans-serif">0</text><line x1="83.5" y1="1044.53" x2="92.8" y2="1044.53" stroke="#000" stroke-width="1.9"/><text x="72.7" y="1053.62" font-size="27.2" text-anchor="end" font-family="&quot;Liberation Sans&quot;, sans-serif">10</text><line x1="83.5" y1="993.55" x2="92.8" y2="993.55" stroke="#000" stroke-width="1.9"/><text x="72.7" y="1002.65" font-size="27.2" text-anchor="end" font-family="&quot;Liberation Sans&quot;, sans-serif">20</text><line x1="83.5" y1="942.58" x2="92.8" y2="942.58" stroke="#000" stroke-width="1.9"/><text x="72.7" y="951.68" font-size="27.2" text-anchor="end" font-family="&quot;Liberation Sans&quot;, sans-serif">30</text><line x1="83.5" y1="891.60" x2="92.8" y2="891.60" stroke="#000" stroke-width="1.9"/><text x="72.7" y="900.70" font-size="27.2" text-anchor="end" font-family="&quot;Liberation Sans&quot;, sans-serif">40</text><line x1="83.5" y1="840.62" x2="92.8" y2="840.62" stroke="#000" stroke-width="1.9"/><text x="72.7" y="849.73" font-size="27.2" text-anchor="end" font-family="&quot;Liberation Sans&quot;, sans-serif">50</text><line x1="83.5" y1="789.65" x2="92.8" y2="789.65" stroke="#000" stroke-width="1.9"/><text x="72.7" y="798.75" font-size="27.2" text-anchor="end" font-family="&quot;Liberation Sans&quot;, sans-serif">60</text><line x1="83.5" y1="738.67" x2="92.8" y2="738.67" stroke="#000" stroke-width="1.9"/><text x="72.7" y="747.77" font-size="27.2" text-anchor="end" font-family="&quot;Liberation Sans&quot;, sans-serif">70</text><line x1="83.5" y1="687.70" x2="92.8" y2="687.70" stroke="#000" stroke-width="1.9"/><text x="72.7" y="696.80" font-size="27.2" text-anchor="end" font-family="&quot;Liberation Sans&quot;, sans-serif">80</text><line x1="113.00" y1="1120.8" x2="113.00" y2="1111.5" stroke="#000" stroke-width="1.9"/><text x="113.00" y="1152.4" font-size="27.2" text-anchor="middle" font-family="&quot;Liberation Sans&quot;, sans-serif">20</text><line x1="172.56" y1="1120.8" x2="172.56" y2="1111.5" stroke="#000" stroke-width="1.9"/><text x="172.56" y="1152.4" font-size="27.2" text-anchor="middle" font-family="&quot;Liberation Sans&quot;, sans-serif">40</text><line x1="232.11" y1="1120.8" x2="232.11" y2="1111.5" stroke="#000" stroke-width="1.9"/><text x="232.11" y="1152.4" font-size="27.2" text-anchor="middle" font-family="&quot;Liberation Sans&quot;, sans-serif">60</text><line x1="291.67" y1="1120.8" x2="291.67" y2="1111.5" stroke="#000" stroke-width="1.9"/><text x="291.67" y="1152.4" font-size="27.2" text-anchor="middle" font-family="&quot;Liberation Sans&quot;, sans-serif">80</text><line x1="351.22" y1="1120.8" x2="351.22" y2="1111.5" stroke="#000" stroke-width="1.9"/><text x="351.22" y="1152.4" font-size="27.2" text-anchor="middle" font-family="&quot;Liberation Sans&quot;, sans-serif">100</text><line x1="410.78" y1="1120.8" x2="410.78" y2="1111.5" stroke="#000" stroke-width="1.9"/><text x="410.78" y="1152.4" font-size="27.2" text-anchor="middle" font-family="&quot;Liberation Sans&quot;, sans-serif">120</text><line x1="470.33" y1="1120.8" x2="470.33" y2="1111.5" stroke="#000" stroke-width="1.9"/><text x="470.33" y="1152.4" font-size="27.2" text-anchor="middle" font-family="&quot;Liberation Sans&quot;, sans-serif">140</text><line x1="529.89" y1="1120.8" x2="529.89" y2="1111.5" stroke="#000" stroke-width="1.9"/><text x="529.89" y="1152.4" font-size="27.2" text-anchor="middle" font-family="&quot;Liberation Sans&quot;, sans-serif">160</text><line x1="589.44" y1="1120.8" x2="589.44" y2="1111.5" stroke="#000" stroke-width="1.9"/><text x="589.44" y="1152.4" font-size="27.2" text-anchor="middle" font-family="&quot;Liberation Sans&quot;, sans-serif">180</text><line x1="649.00" y1="1120.8" x2="649.00" y2="1111.5" stroke="#000" stroke-width="1.9"/><text x="649.00" y="1152.4" font-size="27.2" text-anchor="middle" font-family="&quot;Liberation Sans&quot;, sans-serif">200</text><text x="380.8" y="1198.0" font-size="26.8" text-anchor="middle" font-family="&quot;Liberation Sans&quot;, sans-serif" textLength="305" lengthAdjust="spacingAndGlyphs">Excitation frequency (Hz)</text><g transform="translate(25.6,882.80) rotate(-90)"><text x="0" y="0" font-size="27.4" text-anchor="middle" font-family="&quot;Liberation Sans&quot;, sans-serif" textLength="363.8" lengthAdjust="spacingAndGlyphs">Damping coefficients (kN·s/m)</text></g><text x="339.9" y="1248.2" font-size="36.8" text-anchor="middle" font-family="&quot;Liberation Serif&quot;, serif" textLength="366" lengthAdjust="spacingAndGlyphs">(b) Damping coefficients</text><rect x="151.6" y="665.5" width="126.29999999999998" height="35.700000000000045" fill="#fff" stroke="#555" stroke-width="1.2"/><text x="154.2" y="692.6" font-size="26.3" text-anchor="start" font-family="&quot;Liberation Sans&quot;, sans-serif" textLength="86.6" lengthAdjust="spacingAndGlyphs">Moudle</text><rect x="255.35" y="673.40" width="1.7" height="19.60" fill="#111"/><rect x="253.00" y="673.40" width="6.4" height="1.3" fill="#111"/><rect x="253.00" y="691.70" width="6.4" height="1.3" fill="#111"/><rect x="263.45" y="673.40" width="1.7" height="19.60" fill="#111"/><rect x="261.10" y="673.40" width="6.4" height="1.3" fill="#111"/><rect x="261.10" y="691.70" width="6.4" height="1.3" fill="#111"/><rect x="301.6" y="665.9" width="350.29999999999995" height="67.30000000000007" fill="#fff" stroke="#555" stroke-width="1.2"/><text x="305.0" y="692.4" font-size="26.3" text-anchor="start" font-family="&quot;Liberation Sans&quot;, sans-serif" textLength="344.5" lengthAdjust="spacingAndGlyphs">Diaphragms thickness 0.5mm</text><text x="306.2" y="724.1" font-size="26.3" text-anchor="start" font-family="&quot;Liberation Sans&quot;, sans-serif" textLength="172.5" lengthAdjust="spacingAndGlyphs">Amplitude 5μm</text><rect x="267.3" y="756.0" width="384.99999999999994" height="194.5" fill="#fff" stroke="#555" stroke-width="1.2"/><line x1="270.9" y1="774.7" x2="286.30" y2="774.7" stroke="#000" stroke-width="2.8" stroke-linecap="round"/><line x1="312.80" y1="774.7" x2="328.3" y2="774.7" stroke="#000" stroke-width="2.8" stroke-linecap="round"/><polygon points="299.40,762.37 309.65,780.87 289.15,780.87" fill="#000" stroke="#000" stroke-width="2.0" stroke-linejoin="round"/><text x="335.9" y="783.10" font-size="24.6" text-anchor="start" font-family="&quot;Liberation Sans&quot;, sans-serif" textLength="225" lengthAdjust="spacingAndGlyphs">Viscosity 500mm²/s</text><line x1="270.9" y1="806.5" x2="286.30" y2="806.5" stroke="#f00" stroke-width="2.8" stroke-linecap="round"/><line x1="312.80" y1="806.5" x2="328.3" y2="806.5" stroke="#f00" stroke-width="2.8" stroke-linecap="round"/><rect x="291.10" y="798.20" width="16.6" height="16.6" fill="#f00"/><text x="335.9" y="814.90" font-size="24.6" text-anchor="start" font-family="&quot;Liberation Sans&quot;, sans-serif" textLength="239" lengthAdjust="spacingAndGlyphs">Viscosity 1000mm²/s</text><line x1="270.9" y1="838.4" x2="286.30" y2="838.4" stroke="#00f" stroke-width="2.8" stroke-linecap="round"/><line x1="312.80" y1="838.4" x2="328.3" y2="838.4" stroke="#00f" stroke-width="2.8" stroke-linecap="round"/><circle cx="299.40" cy="838.40" r="9.4" fill="#00f"/><text x="335.9" y="846.80" font-size="24.6" text-anchor="start" font-family="&quot;Liberation Sans&quot;, sans-serif" textLength="239" lengthAdjust="spacingAndGlyphs">Viscosity 2000mm²/s</text><line x1="270.90" y1="870.2" x2="275.90" y2="870.2" stroke="#000" stroke-width="2.8" stroke-linecap="round"/><line x1="286.20" y1="870.2" x2="286.30" y2="870.2" stroke="#000" stroke-width="2.8" stroke-linecap="round"/><line x1="312.80" y1="870.2" x2="317.80" y2="870.2" stroke="#000" stroke-width="2.8" stroke-linecap="round"/><line x1="328.20" y1="870.2" x2="328.30" y2="870.2" stroke="#000" stroke-width="2.8" stroke-linecap="round"/><polygon points="299.40,858.67 309.30,875.97 289.50,875.97" fill="#fff" stroke="#000" stroke-width="3.4" stroke-linejoin="round"/><text x="335.9" y="878.60" font-size="24.6" text-anchor="start" font-family="&quot;Liberation Sans&quot;, sans-serif" textLength="300.6" lengthAdjust="spacingAndGlyphs">Prediction 500mm²/s(λ=0)</text><line x1="270.90" y1="902.0" x2="275.90" y2="902.0" stroke="#f00" stroke-width="2.8" stroke-linecap="round"/><line x1="286.20" y1="902.0" x2="286.30" y2="902.0" stroke="#f00" stroke-width="2.8" stroke-linecap="round"/><line x1="312.80" y1="902.0" x2="317.80" y2="902.0" stroke="#f00" stroke-width="2.8" stroke-linecap="round"/><line x1="328.20" y1="902.0" x2="328.30" y2="902.0" stroke="#f00" stroke-width="2.8" stroke-linecap="round"/><rect x="292.55" y="895.15" width="13.7" height="13.7" fill="#fff" stroke="#f00" stroke-width="3.4"/><text x="335.9" y="910.40" font-size="24.6" text-anchor="start" font-family="&quot;Liberation Sans&quot;, sans-serif" textLength="314" lengthAdjust="spacingAndGlyphs">Prediction 1000mm²/s(λ=0)</text><line x1="270.90" y1="933.8" x2="275.90" y2="933.8" stroke="#00f" stroke-width="2.8" stroke-linecap="round"/><line x1="286.20" y1="933.8" x2="286.30" y2="933.8" stroke="#00f" stroke-width="2.8" stroke-linecap="round"/><line x1="312.80" y1="933.8" x2="317.80" y2="933.8" stroke="#00f" stroke-width="2.8" stroke-linecap="round"/><line x1="328.20" y1="933.8" x2="328.30" y2="933.8" stroke="#00f" stroke-width="2.8" stroke-linecap="round"/><circle cx="299.40" cy="933.80" r="8.2" fill="#fff" stroke="#00f" stroke-width="3.4"/><text x="335.9" y="942.20" font-size="24.6" text-anchor="start" font-family="&quot;Liberation Sans&quot;, sans-serif" textLength="314" lengthAdjust="spacingAndGlyphs">Prediction 2000mm²/s(λ=0)</text></svg></body></html>
